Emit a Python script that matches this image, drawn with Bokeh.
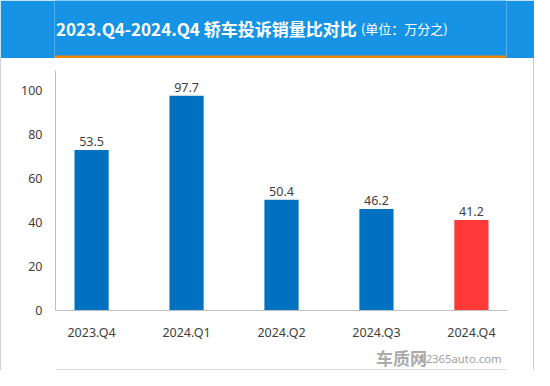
from bokeh.plotting import figure
from bokeh.layouts import column
from bokeh.models import Range1d, FixedTicker, ColumnDataSource, LabelSet
from bokeh.core.properties import value
from bokeh.embed import file_html
from bokeh.resources import INLINE

# ---- data ----
categories = ["2023.Q4", "2024.Q1", "2024.Q2", "2024.Q3", "2024.Q4"]
bar_heights = [73.0, 97.7, 50.4, 46.2, 41.2]      # drawn heights
value_labels = ["53.5", "97.7", "50.4", "46.2", "41.2"]
bar_colors = ["#0070C0", "#0070C0", "#0070C0", "#0070C0", "#FF3838"]
y_ticks = [0, 20, 40, 60, 80, 100]
title_main = "2023.Q4-2024.Q4 轿车投诉销量比对比"
title_unit = "(单位：万分之)"
logo_text = "车质网"
site_text = "12365auto.com"

FONT = "Noto Sans CJK SC"
W = 534
BORDER_COLOR = "#D0D0D0"
BORDER = "1px solid " + BORDER_COLOR


def blank(h, bg):
    f = figure(width=W, height=h, x_range=Range1d(0, W), y_range=Range1d(0, h),
               output_backend="svg", toolbar_location=None, min_border=0,
               x_axis_type=None, y_axis_type=None)
    f.grid.visible = False
    f.outline_line_color = None
    f.background_fill_color = bg
    f.border_fill_color = bg
    return f


# ---- header ----
hdr = blank(58, "#1793E5")
hdr.quad(left=[0], right=[W], bottom=[0], top=[3], color="#F08300", line_color=None)
hdr.text(x=[357], y=[30], text=[title_main], text_align="right", text_baseline="middle",
         text_font=value(FONT), text_font_style="bold", text_font_size="17px",
         text_color="white")
hdr.text(x=[362], y=[30], text=[title_unit], text_align="left", text_baseline="middle",
         text_font=value(FONT), text_font_size="13px", text_color="white")

# ---- main chart ----
xs = list(range(len(categories)))
src = ColumnDataSource(dict(x=xs, top=bar_heights, label=value_labels, color=bar_colors))

p = figure(width=W, height=285, x_range=Range1d(-0.38, 4.38), y_range=Range1d(0, 109.2),
           output_backend="svg", toolbar_location=None,
           min_border_left=54, min_border_right=28, min_border_top=12, min_border_bottom=23)
p.grid.visible = False
p.outline_line_color = None
p.background_fill_color = "white"
p.border_fill_color = "white"

p.vbar(x="x", top="top", width=0.36, color="color", line_color=None, source=src)
p.add_layout(LabelSet(x="x", y="top", text="label", source=src, y_offset=4,
                      text_align="center", text_baseline="bottom",
                      text_font=value("Noto Sans"), text_font_size="12.5px",
                      text_color="#404040"))

p.xaxis.ticker = FixedTicker(ticks=xs)
p.xaxis.major_label_overrides = {i: c for i, c in zip(xs, categories)}
p.yaxis.ticker = FixedTicker(ticks=y_ticks)
for ax in (p.xaxis, p.yaxis):
    ax.axis_line_color = "#BFBFBF"
    ax.major_tick_line_color = None
    ax.minor_tick_line_color = None
    ax.major_label_text_font = "Noto Sans"
    ax.major_label_text_font_size = "12.5px"
    ax.major_label_text_color = "#404040"
p.xaxis.major_label_standoff = 7
p.yaxis.major_label_standoff = 7
p.styles = {"border-left": BORDER, "border-right": BORDER, "box-sizing": "border-box"}

# ---- footer with watermark ----
ftr = blank(27, "white")
ftr.quad(left=[0], right=[W], bottom=[0], top=[1.2], color=BORDER_COLOR, line_color=None)
ftr.text(x=[439], y=[13], text=[logo_text], text_align="right", text_baseline="middle",
         text_font=value(FONT), text_font_style="bold", text_font_size="17px",
         text_color="#ABABAB")
ftr.text(x=[527], y=[12], text=[site_text], text_align="right", text_baseline="middle",
         text_font=value("Noto Sans"), text_font_size="11.3px", text_color="#A0A0A0")
ftr.styles = {"border-left": BORDER, "border-right": BORDER, "box-sizing": "border-box"}

layout = column(hdr, p, ftr, spacing=0)
open("out.html", "w").write(file_html(layout, INLINE))
